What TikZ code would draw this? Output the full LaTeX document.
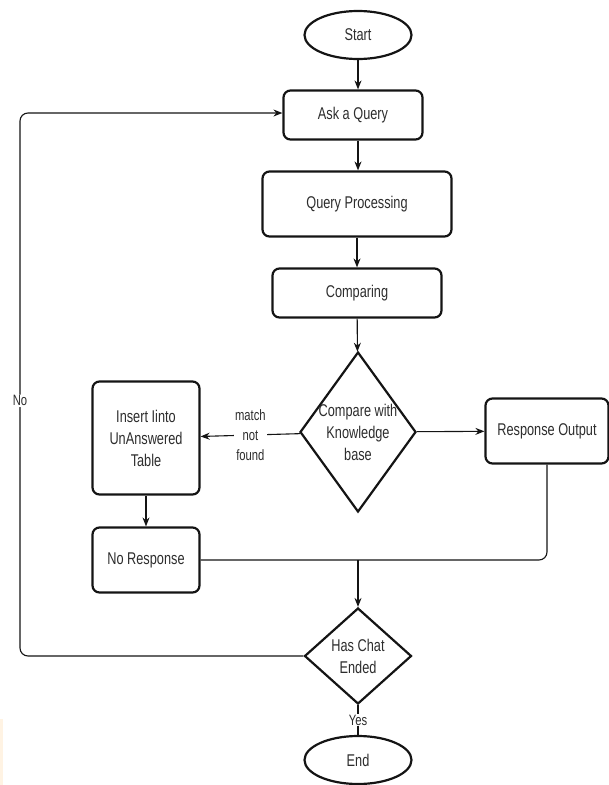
\documentclass[tikz,border=0pt]{standalone}
\usepackage{fontspec}
\setmainfont{Liberation Sans}[FakeStretch=0.75]
\usepackage{tikz}
\usepackage{xcolor}
\usetikzlibrary{shapes.geometric, positioning, arrows.meta}
\definecolor{fcline}{RGB}{20, 20, 20}
\definecolor{fctext}{RGB}{45, 45, 45}
\definecolor{fcpeach}{RGB}{255, 243, 227}
\tikzset{
    fcnode/.style={draw=fcline, line width=2.2pt, text=fctext, align=center, inner sep=2pt,
        font=\fontsize{17}{22}\selectfont},
    termnode/.style={fcnode, ellipse, minimum width=107pt, minimum height=48pt},
    procnode/.style={fcnode, rectangle, rounded corners=7pt},
    decnode/.style={fcnode, diamond, inner sep=0pt},
    flow/.style={draw=fcline, line width=1.1pt, -{Stealth[length=9pt, width=7pt]}},
    flowlabel/.style={fill=white, text=fctext, align=center, inner sep=1pt,
        font=\fontsize{15}{20}\selectfont}
}
\begin{document}
\begin{tikzpicture}[x=1pt, y=-1pt]
        \useasboundingbox (0,0) rectangle (609,785);
        \fill[fcpeach] (0,719) rectangle (3,785);
        \node[termnode] (start) at (358,35) {Start};
        \node[procnode, minimum width=139pt, minimum height=49pt] (ask) at (353,115) {Ask a Query};
        \node[procnode, minimum width=189pt, minimum height=65pt] (proc) at (357,204) {Query Processing};
        \node[procnode, minimum width=169pt, minimum height=49pt] (comp) at (357,293) {Comparing};
        \node[decnode, minimum width=116pt, minimum height=160pt,
            label={[fcnode, draw=none]center:Compare with\\Knowledge\\base}] (kb) at (358,432) {};
        \node[procnode, minimum width=107pt, minimum height=113pt] (insert) at (146,438) {Insert Iinto\\UnAnswered\\Table};
        \node[procnode, minimum width=123pt, minimum height=65pt] (resp) at (547,431) {Response Output};
        \node[procnode, minimum width=107pt, minimum height=65pt] (nores) at (146,560) {No Response};
        \node[decnode, minimum width=107pt, minimum height=96pt] (ended) at (358,656) {Has Chat\\Ended};
        \node[termnode] (end) at (358,760) {End};
        \coordinate (join) at (358,560);
        \draw[flow] (start) -- (start |- ask.north);
        \draw[flow] (ask.south -| start) -- (start |- proc.north);
        \draw[flow] (proc) -- (comp);
        \draw[flow] (comp) -- (kb);
        \draw[flow] (kb) -- node[flowlabel] {match\\not\\found} (insert);
        \draw[flow] (kb) -- (resp);
        \draw[flow] (insert) -- (nores);
        \draw[draw=fcline, line width=1.1pt, rounded corners=8pt] (nores.east) -- (resp.south |- nores.east) -- (resp.south);
        \draw[flow] (join) -- (ended);
        \draw[flow, rounded corners=8pt] (ended.west) -- (20,656) -- node[flowlabel, pos=0.47] {No} (20,113) -- (ask.west |- 0,113);
        \draw[draw=fcline, line width=1.1pt] (ended) -- node[flowlabel] {Yes} (end);
\end{tikzpicture}
\end{document}
